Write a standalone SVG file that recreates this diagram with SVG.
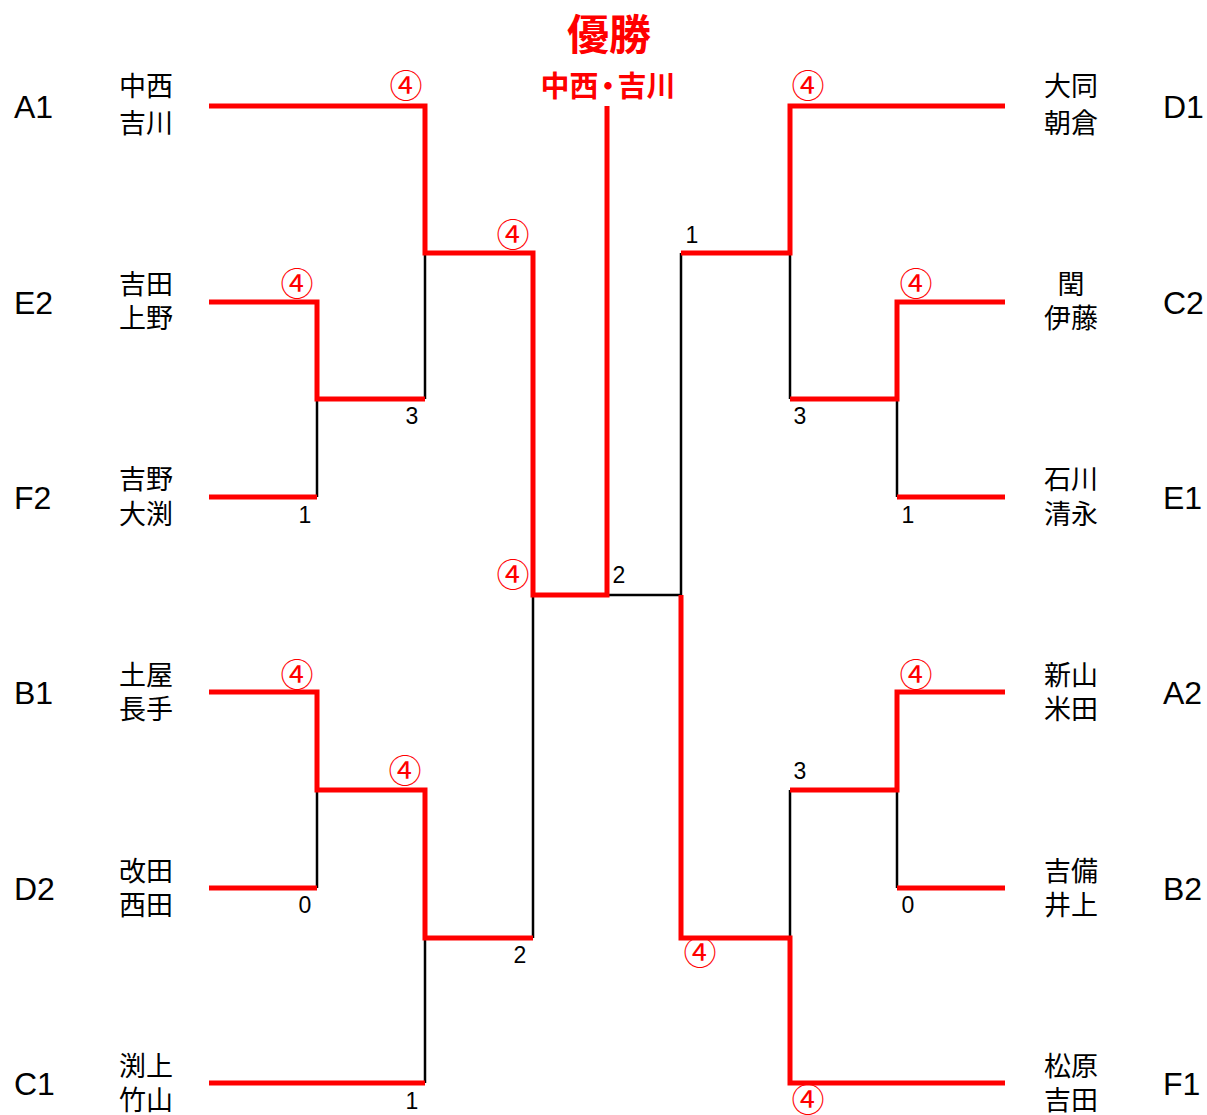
<svg xmlns="http://www.w3.org/2000/svg" width="1207" height="1115" viewBox="0 0 1207 1115">
<style>
.bk{fill:none;stroke:#000;stroke-width:2.5}
.rd{fill:none;stroke:#ff0000;stroke-width:5;stroke-linejoin:miter;stroke-linecap:butt}
.lab{font-family:"Liberation Sans",Arial,sans-serif;font-size:32px;fill:#000}
.nm{font-family:"Noto Sans CJK JP","Noto Sans CJK SC",sans-serif;font-size:27px;fill:#000}
.sc{font-family:"Liberation Sans",Arial,sans-serif;font-size:23px;fill:#000;text-anchor:middle}
.wn{font-family:"Noto Sans CJK JP","Noto Sans CJK SC",sans-serif;font-size:33px;fill:#ff0000;text-anchor:middle}
.ttl{font-family:"Noto Sans CJK JP","Noto Sans CJK SC",sans-serif;font-weight:bold;fill:#ff0000;text-anchor:middle}
</style>
<rect width="1207" height="1115" fill="#fff"/>
<g id="connectors">
  <path class="bk" d="M317,399 V497 M425,253 V399 M533,595 V938 M317,790 V888 M425,938 V1083"/>
  <path class="bk" d="M607,595 H681 M681,253 V595 M790,253 V399 M897,399 V497 M897,790 V888 M790,790 V938"/>
  <path class="rd" d="M209,106 H425 V253 H533 V595 H607 V106"/>
  <path class="rd" d="M209,302 H317 V399 H425"/>
  <path class="rd" d="M209,497 H317"/>
  <path class="rd" d="M209,692 H317 V790 H425 V938 H533"/>
  <path class="rd" d="M209,888 H317"/>
  <path class="rd" d="M209,1083 H425"/>
  <path class="rd" d="M1005,1083 H790 V938 H681 V595"/>
  <path class="rd" d="M1005,106 H790 V253 H681"/>
  <path class="rd" d="M1005,302 H897 V399 H790"/>
  <path class="rd" d="M1005,497 H897"/>
  <path class="rd" d="M1005,692 H897 V790 H790"/>
  <path class="rd" d="M1005,888 H897"/>
</g>
<g id="title">
  <text class="ttl" x="609" y="50" font-size="42">優勝</text>
  <text class="ttl" x="608" y="97" font-size="29">中西<tspan dx="-5">・</tspan><tspan dx="-5">吉川</tspan></text>
</g>
<g id="A1"><text class="lab" x="14" y="117.5">A1</text><text class="nm" x="119" y="96">中西</text><text class="nm" x="119" y="133">吉川</text></g>
<g id="E2"><text class="lab" x="14" y="313.5">E2</text><text class="nm" x="119" y="294">吉田</text><text class="nm" x="119" y="328">上野</text></g>
<g id="F2"><text class="lab" x="14" y="508.5">F2</text><text class="nm" x="119" y="489">吉野</text><text class="nm" x="119" y="524">大渕</text></g>
<g id="B1"><text class="lab" x="14" y="703.5">B1</text><text class="nm" x="119" y="685">土屋</text><text class="nm" x="119" y="719">長手</text></g>
<g id="D2"><text class="lab" x="14" y="899.5">D2</text><text class="nm" x="119" y="881">改田</text><text class="nm" x="119" y="915">西田</text></g>
<g id="C1"><text class="lab" x="14" y="1094.5">C1</text><text class="nm" x="119" y="1076">渕上</text><text class="nm" x="119" y="1110">竹山</text></g>
<g id="D1"><text class="lab" x="1163" y="117.5">D1</text><text class="nm" x="1044" y="96">大同</text><text class="nm" x="1044" y="133">朝倉</text></g>
<g id="C2"><text class="lab" x="1163" y="313.5">C2</text><text class="nm" x="1071" y="294" text-anchor="middle">閏</text><text class="nm" x="1044" y="328">伊藤</text></g>
<g id="E1"><text class="lab" x="1163" y="508.5">E1</text><text class="nm" x="1044" y="489">石川</text><text class="nm" x="1044" y="524">清永</text></g>
<g id="A2"><text class="lab" x="1163" y="703.5">A2</text><text class="nm" x="1044" y="685">新山</text><text class="nm" x="1044" y="719">米田</text></g>
<g id="B2"><text class="lab" x="1163" y="899.5">B2</text><text class="nm" x="1044" y="881">吉備</text><text class="nm" x="1044" y="915">井上</text></g>
<g id="F1"><text class="lab" x="1163" y="1094.5">F1</text><text class="nm" x="1044" y="1076">松原</text><text class="nm" x="1044" y="1110">吉田</text></g>
<g id="scores">
  <text class="wn" x="406" y="98">④</text>
  <text class="wn" x="297" y="296">④</text>
  <text class="wn" x="513" y="247">④</text>
  <text class="wn" x="513" y="587">④</text>
  <text class="wn" x="297" y="687">④</text>
  <text class="wn" x="405" y="783">④</text>
  <text class="wn" x="808" y="98">④</text>
  <text class="wn" x="916" y="296">④</text>
  <text class="wn" x="916" y="687">④</text>
  <text class="wn" x="700" y="965">④</text>
  <text class="wn" x="808" y="1112">④</text>
  <text class="sc" x="412" y="424">3</text>
  <text class="sc" x="305" y="523">1</text>
  <text class="sc" x="619" y="583">2</text>
  <text class="sc" x="692" y="243">1</text>
  <text class="sc" x="800" y="424">3</text>
  <text class="sc" x="908" y="523">1</text>
  <text class="sc" x="305" y="913">0</text>
  <text class="sc" x="520" y="963">2</text>
  <text class="sc" x="412" y="1109">1</text>
  <text class="sc" x="800" y="779">3</text>
  <text class="sc" x="908" y="913">0</text>
</g>
</svg>
